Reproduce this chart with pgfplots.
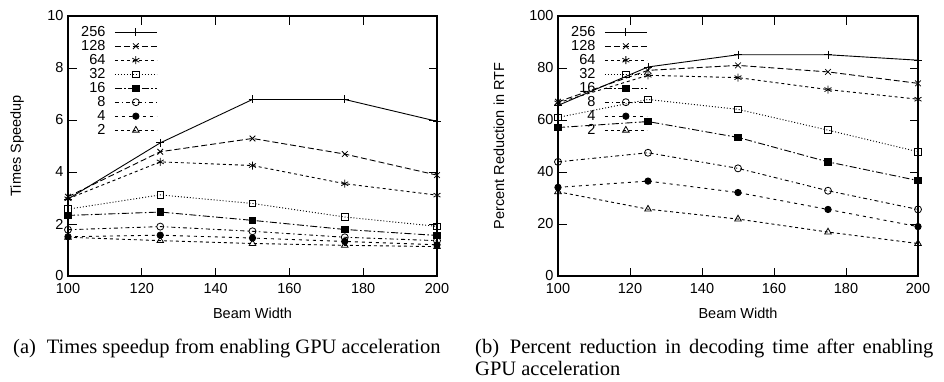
\documentclass[border=0pt]{standalone}
\usepackage{fontspec}
\setmainfont{Liberation Serif}
\setsansfont{Liberation Sans}
\usepackage{pgfplots}
\pgfplotsset{compat=1.18}
\pgfplotsset{legend image code/.code={\draw[mark repeat=2,mark phase=2,#1] plot coordinates {(0pt,0pt) (21pt,0pt) (42pt,0pt)};}}
\pgfplotsset{
  gpl/.style={
    scale only axis, height=260pt,
    xmin=100, xmax=200, xtick={100,120,...,200},
    ymin=0,
    font=\fontsize{14.5}{15}\selectfont\sffamily,
    /pgf/number format/assume math mode=true,
    tick label style={font=\fontsize{14.5}{15}\selectfont\sffamily},
    major tick length=8.5pt,
    axis line style={line width=1.1pt},
    major tick style={line width=0.9pt, black},
    xticklabel style={yshift=-4pt},
    yticklabel style={xshift=-1pt},
    xlabel style={at={(axis description cs:0.5,0)}, anchor=base, yshift=-42pt},
    legend plot pos=right,
    legend cell align=right,
    legend style={draw=none, fill=none, at={(axis description cs:0,1)}, anchor=north west,
      xshift=9pt, yshift=-7pt, row sep=0pt, column sep=8pt,
      font=\fontsize{14.5}{15}\selectfont\sffamily,
      nodes={inner sep=1pt, text height=10pt, text depth=2pt}},
  },
  ln/.style={black, line width=0.9pt, mark options={solid, line width=0.8pt}},
  s256/.style={ln, solid, mark=+, mark size=4pt},
  s128/.style={ln, dash pattern=on 6pt off 3pt, mark=x, mark size=4pt},
  s64/.style={ln, dash pattern=on 3pt off 3pt, mark=asterisk, mark size=4pt},
  s32/.style={ln, dash pattern=on 1pt off 2pt, mark=square, mark size=3.3pt},
  s16/.style={ln, dash pattern=on 7pt off 2.5pt on 1.5pt off 2.5pt, mark=square*, mark size=3.3pt},
  s8/.style={ln, dash pattern=on 4pt off 3pt on 1.5pt off 3pt, mark=o, mark size=3.5pt},
  s4/.style={ln, dash pattern=on 3pt off 4pt, mark=*, mark size=3.2pt},
  s2/.style={ln, dash pattern=on 3pt off 3pt, mark=triangle, mark size=3.8pt},
}
\begin{document}
\begin{tikzpicture}
\useasboundingbox (0,0) rectangle (944pt,-381pt);
\begin{axis}[gpl, width=369pt, at={(68pt,-276pt)}, anchor=south west,
  ymax=10, ytick={0,2,...,10},
  xlabel={Beam Width}, ylabel={Times Speedup},
  ylabel style={at={(axis description cs:-0.138,0.5)}, anchor=center}]
\addplot[s256] coordinates {(100,2.96) (125,5.12) (150,6.79) (175,6.79) (200,5.95)};
\addlegendentry{256}
\addplot[s128] coordinates {(100,3.05) (125,4.78) (150,5.29) (175,4.69) (200,3.88)};
\addlegendentry{128}
\addplot[s64] coordinates {(100,2.97) (125,4.39) (150,4.25) (175,3.55) (200,3.11)};
\addlegendentry{64}
\addplot[s32] coordinates {(100,2.57) (125,3.12) (150,2.79) (175,2.27) (200,1.91)};
\addlegendentry{32}
\addplot[s16] coordinates {(100,2.33) (125,2.46) (150,2.14) (175,1.79) (200,1.56)};
\addlegendentry{16}
\addplot[s8] coordinates {(100,1.78) (125,1.90) (150,1.72) (175,1.49) (200,1.36)};
\addlegendentry{8}
\addplot[s4] coordinates {(100,1.51) (125,1.57) (150,1.46) (175,1.33) (200,1.20)};
\addlegendentry{4}
\addplot[s2] coordinates {(100,1.49) (125,1.36) (150,1.25) (175,1.18) (200,1.13)};
\addlegendentry{2}
\end{axis}
\begin{axis}[gpl, width=360pt, at={(558pt,-276pt)}, anchor=south west,
  ymax=100, ytick={0,20,...,100},
  xlabel={Beam Width}, ylabel={Percent Reduction in RTF},
  ylabel style={at={(axis description cs:-0.164,0.5)}, anchor=center}]
\addplot[s256] coordinates {(100,65.6) (125,80.4) (150,85.1) (175,85.1) (200,83.0)};
\addlegendentry{256}
\addplot[s128] coordinates {(100,67.0) (125,79.1) (150,81.0) (175,78.5) (200,74.1)};
\addlegendentry{128}
\addplot[s64] coordinates {(100,66.6) (125,77.2) (150,76.3) (175,71.7) (200,68.0)};
\addlegendentry{64}
\addplot[s32] coordinates {(100,61.0) (125,67.9) (150,64.1) (175,56.1) (200,47.8)};
\addlegendentry{32}
\addplot[s16] coordinates {(100,57.1) (125,59.4) (150,53.3) (175,43.9) (200,36.7)};
\addlegendentry{16}
\addplot[s8] coordinates {(100,43.9) (125,47.4) (150,41.4) (175,32.8) (200,25.6)};
\addlegendentry{8}
\addplot[s4] coordinates {(100,34.1) (125,36.5) (150,32.1) (175,25.6) (200,19.0)};
\addlegendentry{4}
\addplot[s2] coordinates {(100,32.4) (125,25.7) (150,21.9) (175,16.9) (200,12.5)};
\addlegendentry{2}
\end{axis}
\node[anchor=base west, inner sep=0pt, font=\fontsize{20.5}{20}\selectfont] at (13pt,-353pt)
  {(a)\hspace{0.53em}Times speedup from enabling GPU acceleration};
\node[anchor=base west, inner sep=0pt, font=\fontsize{20.5}{20}\selectfont] at (475pt,-353pt)
  {\makebox[458pt][s]{(b)\hspace{0.53em}Percent reduction in decoding time after enabling}};
\node[anchor=base west, inner sep=0pt, font=\fontsize{20.5}{20}\selectfont] at (475pt,-375pt)
  {GPU acceleration};
\end{tikzpicture}
\end{document}
